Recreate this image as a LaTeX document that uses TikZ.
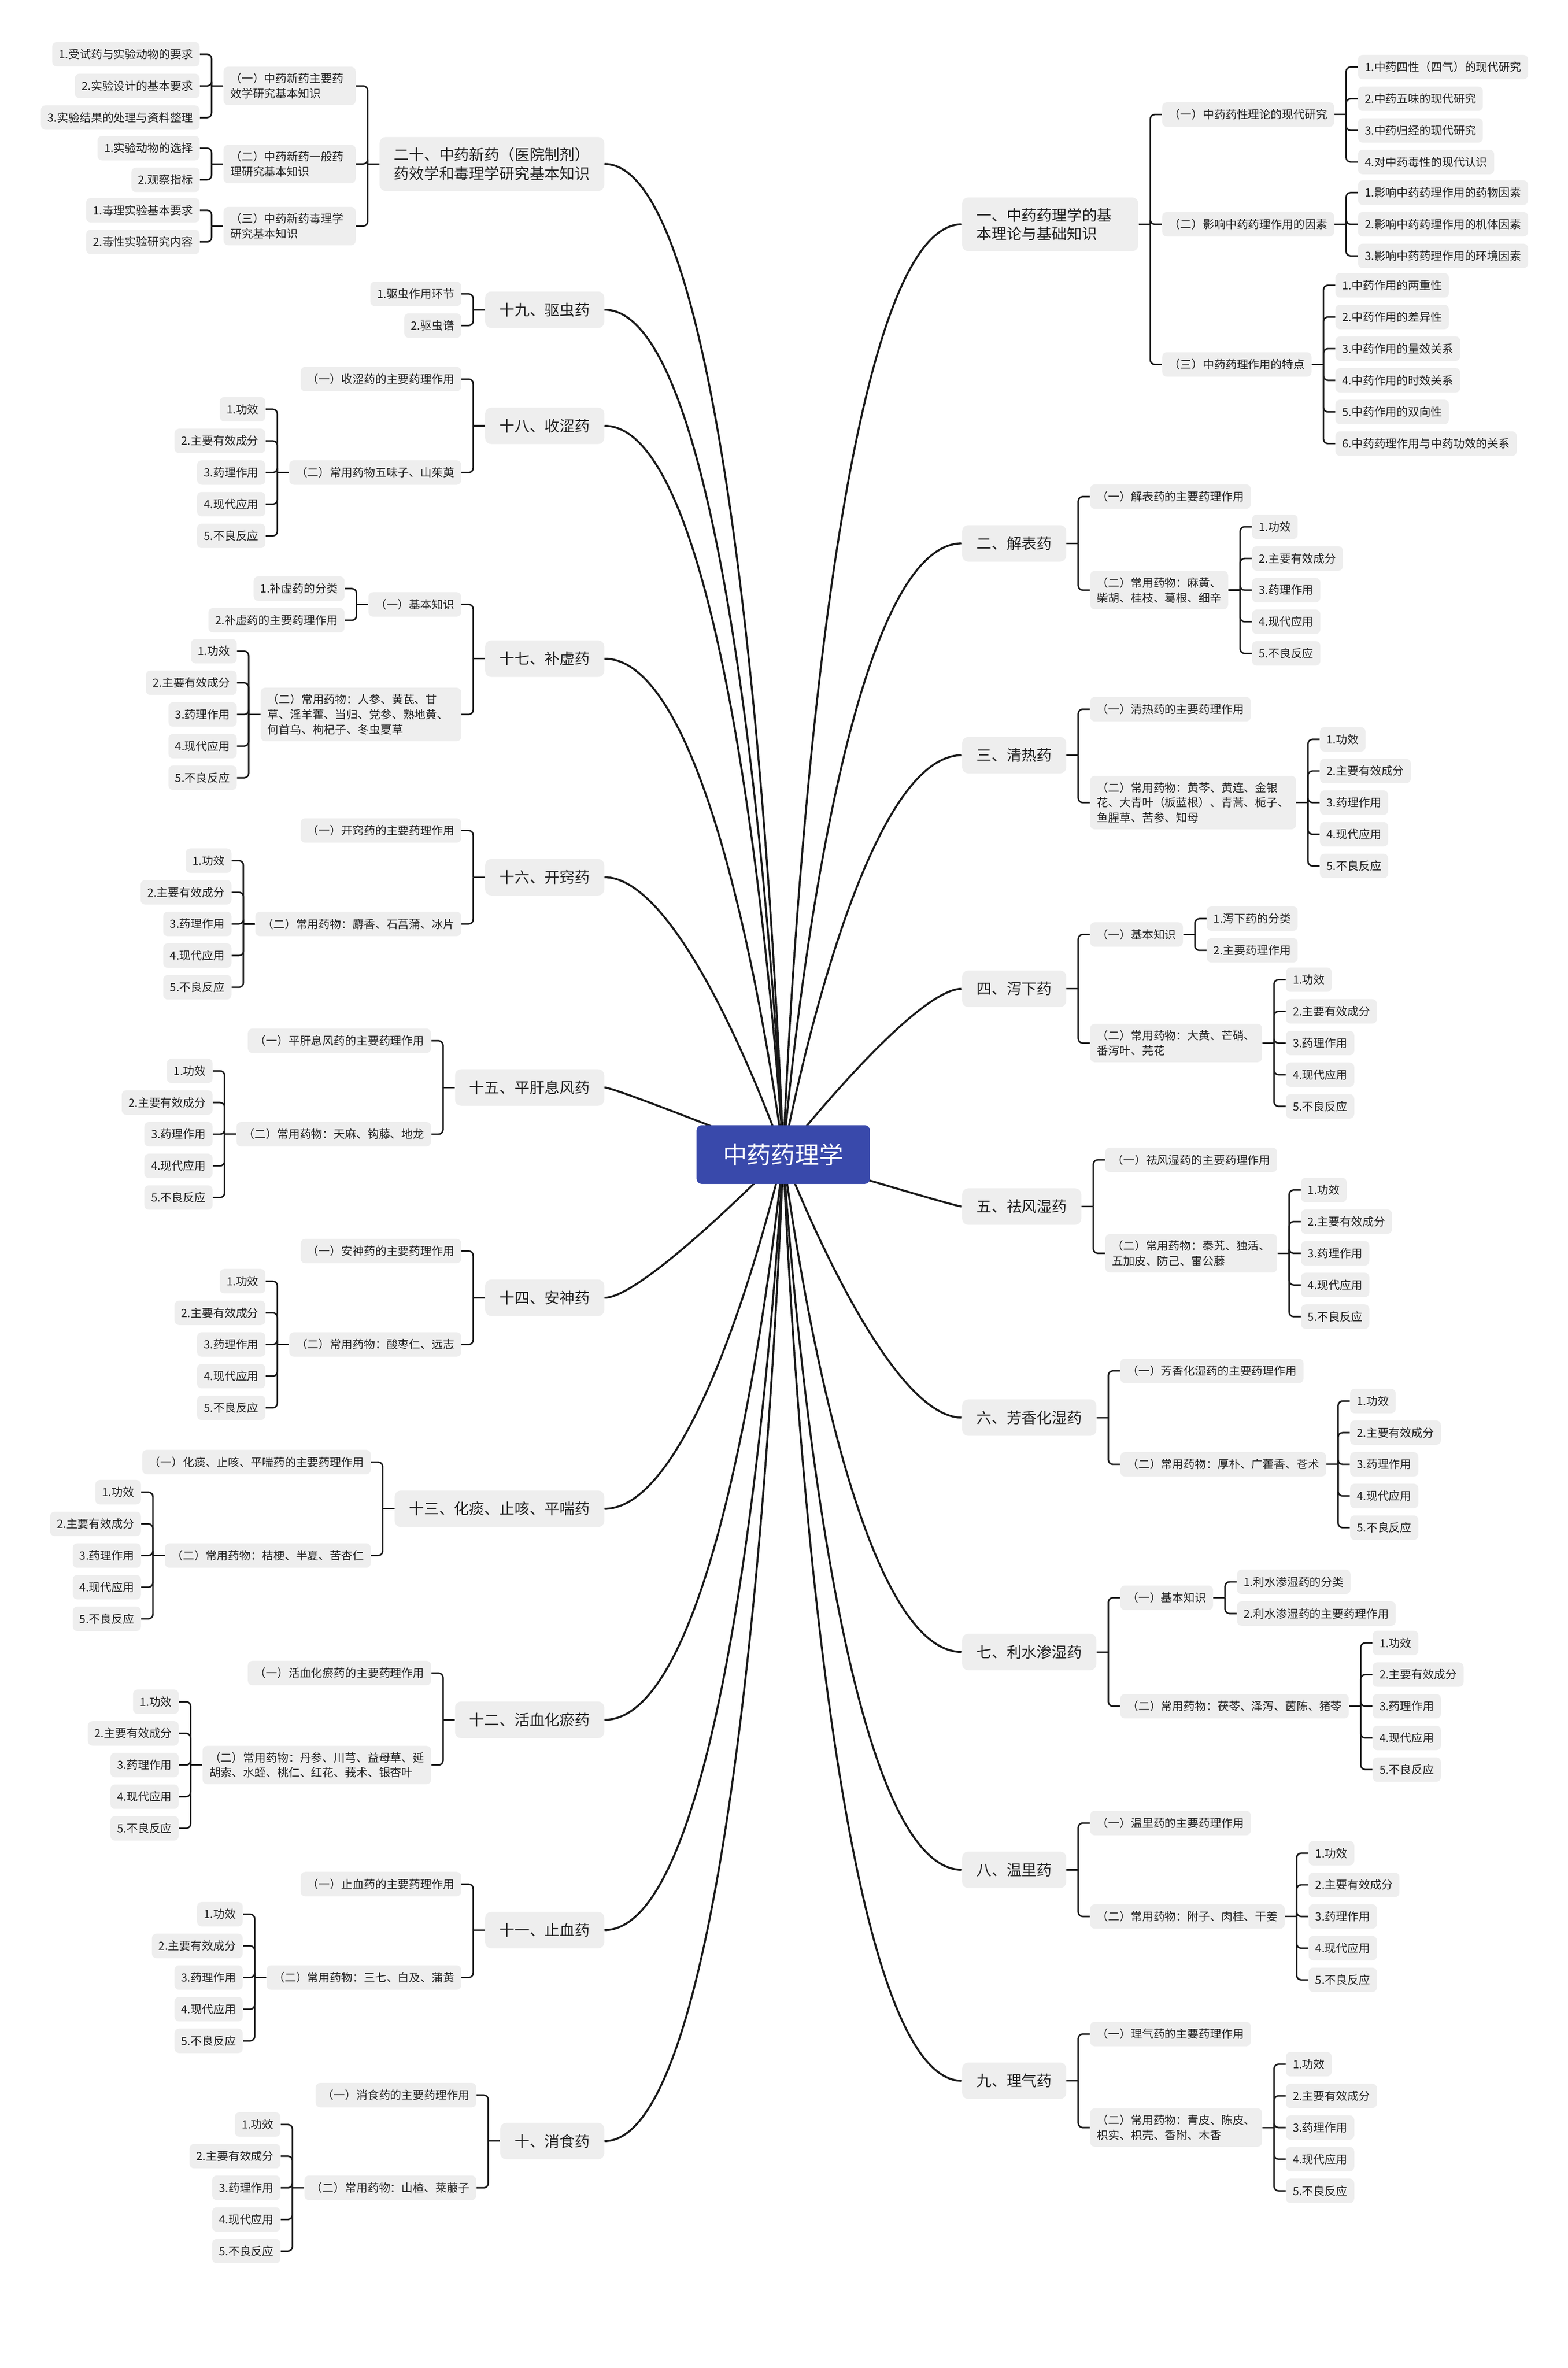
\documentclass[tikz,border=0pt]{standalone}
\usepackage{fontspec}
\setmainfont{Noto Sans CJK SC}
\usepackage{tikz}
\usetikzlibrary{positioning}
\usetikzlibrary{calc}
\usetikzlibrary{backgrounds}
\usepackage{xcolor}
\definecolor{rootblue}{HTML}{3949AB}
\definecolor{boxgray}{HTML}{EEEEEE}
\definecolor{inkgray}{HTML}{222222}
\definecolor{linegray}{HTML}{1A1A1A}

\tikzset{
  root/.style={fill=rootblue, text=white, rounded corners=3.5pt, minimum width=115pt, minimum height=39pt, font=\fontsize{16}{19}\selectfont},
  topic/.style={fill=boxgray, text=inkgray, rounded corners=4pt, inner xsep=9.5pt, inner ysep=7pt, minimum height=24.2pt, align=left, font=\fontsize{10}{12.4}\selectfont},
  sub/.style={fill=boxgray, text=inkgray, rounded corners=3pt, inner xsep=4.5pt, inner ysep=4.2pt, minimum height=16.2pt, align=left, font=\fontsize{7.5}{10}\selectfont},
  trunk/.style={linegray, line width=1.3pt},
  link/.style={linegray, line width=1pt},
}

\newcommand\rlink[2]{%
  \draw[link] (#1.east) -- ([xshift=7.75pt]#1.east);
  \draw[link, rounded corners=3pt] ([xshift=7.75pt]#1.east) |- (#2.west);}
\newcommand\llink[2]{%
  \draw[link] (#1.west) -- ([xshift=-7.75pt]#1.west);
  \draw[link, rounded corners=3pt] ([xshift=-7.75pt]#1.west) |- (#2.east);}

\newcommand\rleaves[3]{%
  \foreach \lbl [count=\i] in {#3}{%
    \node[sub, right=15.5pt of #1, yshift={((#2+1)/2-\i)*21pt}] (#1-\i) {\lbl};
    \rlink{#1}{#1-\i}
  }}
\newcommand\lleaves[3]{%
  \foreach \lbl [count=\i] in {#3}{%
    \node[sub, left=15.5pt of #1, yshift={((#2+1)/2-\i)*21pt}] (#1-\i) {\lbl};
    \llink{#1}{#1-\i}
  }}
\newcommand\rfive[1]{\rleaves{#1}{5}{1.功效,2.主要有效成分,3.药理作用,4.现代应用,5.不良反应}}
\newcommand\lfive[1]{\lleaves{#1}{5}{1.功效,2.主要有效成分,3.药理作用,4.现代应用,5.不良反应}}

\begin{document}
\begin{tikzpicture}[x=1pt, y=-1pt]
\useasboundingbox (0,0) rectangle (1040,1571.06);

\node[root] (root) at (519.5,766) {中药药理学};

% right side
\node[topic, anchor=west, text width=97.8pt] (b1) at (638,148.8) {一、中药药理学的基\\本理论与基础知识};
\node[sub, right=15.5pt of b1, yshift=72.8pt] (b1a) {（一）中药药性理论的现代研究};
\node[sub, right=15.5pt of b1] (b1b) {（二）影响中药药理作用的因素};
\node[sub, right=15.5pt of b1, yshift=-93pt] (b1c) {（三）中药药理作用的特点};
\rlink{b1}{b1a} \rlink{b1}{b1b} \rlink{b1}{b1c}
\rleaves{b1a}{4}{1.中药四性（四气）的现代研究,2.中药五味的现代研究,3.中药归经的现代研究,4.对中药毒性的现代认识}
\rleaves{b1b}{3}{1.影响中药药理作用的药物因素,2.影响中药药理作用的机体因素,3.影响中药药理作用的环境因素}
\rleaves{b1c}{6}{1.中药作用的两重性,2.中药作用的差异性,3.中药作用的量效关系,4.中药作用的时效关系,5.中药作用的双向性,6.中药药理作用与中药功效的关系}

\node[topic, anchor=west] (b2) at (638,360.5) {二、解表药};
\node[sub, right=15.5pt of b2, yshift=31pt] (b2a) {（一）解表药的主要药理作用};
\node[sub, right=15.5pt of b2, yshift=-31pt] (b2b) {（二）常用药物：麻黄、\\柴胡、桂枝、葛根、细辛};
\rlink{b2}{b2a} \rlink{b2}{b2b}
\rfive{b2b}

\node[topic, anchor=west] (b3) at (638,501) {三、清热药};
\node[sub, right=15.5pt of b3, yshift=30.5pt] (b3a) {（一）清热药的主要药理作用};
\node[sub, right=15.5pt of b3, yshift=-31.5pt] (b3b) {（二）常用药物：黄芩、黄连、金银\\花、大青叶（板蓝根）、青蒿、栀子、\\鱼腥草、苦参、知母};
\rlink{b3}{b3a} \rlink{b3}{b3b}
\rfive{b3b}

\node[topic, anchor=west] (b4) at (638,656) {四、泻下药};
\node[sub, right=15.5pt of b4, yshift=36pt] (b4a) {（一）基本知识};
\node[sub, right=15.5pt of b4, yshift=-36pt] (b4b) {（二）常用药物：大黄、芒硝、\\番泻叶、芫花};
\rlink{b4}{b4a} \rlink{b4}{b4b}
\rleaves{b4a}{2}{1.泻下药的分类,2.主要药理作用}
\rfive{b4b}

\node[topic, anchor=west] (b5) at (638,800.5) {五、祛风湿药};
\node[sub, right=15.5pt of b5, yshift=31pt] (b5a) {（一）祛风湿药的主要药理作用};
\node[sub, right=15.5pt of b5, yshift=-31pt] (b5b) {（二）常用药物：秦艽、独活、\\五加皮、防己、雷公藤};
\rlink{b5}{b5a} \rlink{b5}{b5b}
\rfive{b5b}

\node[topic, anchor=west] (b6) at (638,940.5) {六、芳香化湿药};
\node[sub, right=15.5pt of b6, yshift=31pt] (b6a) {（一）芳香化湿药的主要药理作用};
\node[sub, right=15.5pt of b6, yshift=-31pt] (b6b) {（二）常用药物：厚朴、广藿香、苍术};
\rlink{b6}{b6a} \rlink{b6}{b6b}
\rfive{b6b}

\node[topic, anchor=west] (b7) at (638,1096) {七、利水渗湿药};
\node[sub, right=15.5pt of b7, yshift=36pt] (b7a) {（一）基本知识};
\node[sub, right=15.5pt of b7, yshift=-36pt] (b7b) {（二）常用药物：茯苓、泽泻、茵陈、猪苓};
\rlink{b7}{b7a} \rlink{b7}{b7b}
\rleaves{b7a}{2}{1.利水渗湿药的分类,2.利水渗湿药的主要药理作用}
\rfive{b7b}

\node[topic, anchor=west] (b8) at (638,1240.5) {八、温里药};
\node[sub, right=15.5pt of b8, yshift=31pt] (b8a) {（一）温里药的主要药理作用};
\node[sub, right=15.5pt of b8, yshift=-31pt] (b8b) {（二）常用药物：附子、肉桂、干姜};
\rlink{b8}{b8a} \rlink{b8}{b8b}
\rfive{b8b}

\node[topic, anchor=west] (b9) at (638,1380.5) {九、理气药};
\node[sub, right=15.5pt of b9, yshift=31pt] (b9a) {（一）理气药的主要药理作用};
\node[sub, right=15.5pt of b9, yshift=-31pt] (b9b) {（二）常用药物：青皮、陈皮、\\枳实、枳壳、香附、木香};
\rlink{b9}{b9a} \rlink{b9}{b9b}
\rfive{b9b}

% left side
\node[topic, anchor=east] (b20) at (401,108.8) {二十、中药新药（医院制剂）\\药效学和毒理学研究基本知识};
\node[sub, left=15.5pt of b20, yshift=51.8pt, text width=78.6pt] (b20a) {（一）中药新药主要药\\效学研究基本知识};
\node[sub, left=15.5pt of b20, text width=78.6pt] (b20b) {（二）中药新药一般药\\理研究基本知识};
\node[sub, left=15.5pt of b20, yshift=-41.2pt, text width=78.6pt] (b20c) {（三）中药新药毒理学\\研究基本知识};
\llink{b20}{b20a} \llink{b20}{b20b} \llink{b20}{b20c}
\lleaves{b20a}{3}{1.受试药与实验动物的要求,2.实验设计的基本要求,3.实验结果的处理与资料整理}
\lleaves{b20b}{2}{1.实验动物的选择,2.观察指标}
\lleaves{b20c}{2}{1.毒理实验基本要求,2.毒性实验研究内容}

\node[topic, anchor=east] (b19) at (401,205.5) {十九、驱虫药};
\lleaves{b19}{2}{1.驱虫作用环节,2.驱虫谱}

\node[topic, anchor=east] (b18) at (401,282.5) {十八、收涩药};
\node[sub, left=15.5pt of b18, yshift=31pt] (b18a) {（一）收涩药的主要药理作用};
\node[sub, left=15.5pt of b18, yshift=-31pt] (b18b) {（二）常用药物五味子、山茱萸};
\llink{b18}{b18a} \llink{b18}{b18b}
\lfive{b18b}

\node[topic, anchor=east] (b17) at (401,437) {十七、补虚药};
\node[sub, left=15.5pt of b17, yshift=36pt] (b17a) {（一）基本知识};
\node[sub, left=15.5pt of b17, yshift=-37pt, text width=124pt] (b17b) {（二）常用药物：人参、黄芪、甘\\草、淫羊藿、当归、党参、熟地黄、\\何首乌、枸杞子、冬虫夏草};
\llink{b17}{b17a} \llink{b17}{b17b}
\lleaves{b17a}{2}{1.补虚药的分类,2.补虚药的主要药理作用}
\lfive{b17b}

\node[topic, anchor=east] (b16) at (401,582) {十六、开窍药};
\node[sub, left=15.5pt of b16, yshift=31pt] (b16a) {（一）开窍药的主要药理作用};
\node[sub, left=15.5pt of b16, yshift=-31pt] (b16b) {（二）常用药物：麝香、石菖蒲、冰片};
\llink{b16}{b16a} \llink{b16}{b16b}
\lfive{b16b}

\node[topic, anchor=east] (b15) at (401,721.5) {十五、平肝息风药};
\node[sub, left=15.5pt of b15, yshift=31pt] (b15a) {（一）平肝息风药的主要药理作用};
\node[sub, left=15.5pt of b15, yshift=-31pt] (b15b) {（二）常用药物：天麻、钩藤、地龙};
\llink{b15}{b15a} \llink{b15}{b15b}
\lfive{b15b}

\node[topic, anchor=east] (b14) at (401,861) {十四、安神药};
\node[sub, left=15.5pt of b14, yshift=31pt] (b14a) {（一）安神药的主要药理作用};
\node[sub, left=15.5pt of b14, yshift=-31pt] (b14b) {（二）常用药物：酸枣仁、远志};
\llink{b14}{b14a} \llink{b14}{b14b}
\lfive{b14b}

\node[topic, anchor=east] (b13) at (401,1001) {十三、化痰、止咳、平喘药};
\node[sub, left=15.5pt of b13, yshift=31pt] (b13a) {（一）化痰、止咳、平喘药的主要药理作用};
\node[sub, left=15.5pt of b13, yshift=-31pt] (b13b) {（二）常用药物：桔梗、半夏、苦杏仁};
\llink{b13}{b13a} \llink{b13}{b13b}
\lfive{b13b}

\node[topic, anchor=east] (b12) at (401,1141) {十二、活血化瘀药};
\node[sub, left=15.5pt of b12, yshift=31pt] (b12a) {（一）活血化瘀药的主要药理作用};
\node[sub, left=15.5pt of b12, yshift=-30pt] (b12b) {（二）常用药物：丹参、川芎、益母草、延\\胡索、水蛭、桃仁、红花、莪术、银杏叶};
\llink{b12}{b12a} \llink{b12}{b12b}
\lfive{b12b}

\node[topic, anchor=east] (b11) at (401,1280.5) {十一、止血药};
\node[sub, left=15.5pt of b11, yshift=30.5pt] (b11a) {（一）止血药的主要药理作用};
\node[sub, left=15.5pt of b11, yshift=-31.5pt] (b11b) {（二）常用药物：三七、白及、蒲黄};
\llink{b11}{b11a} \llink{b11}{b11b}
\lfive{b11b}

\node[topic, anchor=east] (b10) at (401,1420.5) {十、消食药};
\node[sub, left=15.5pt of b10, yshift=30.5pt] (b10a) {（一）消食药的主要药理作用};
\node[sub, left=15.5pt of b10, yshift=-31pt] (b10b) {（二）常用药物：山楂、莱菔子};
\llink{b10}{b10a} \llink{b10}{b10b}
\lfive{b10b}

\begin{pgfonlayer}{background}
\fill[white] (0,0) rectangle (1040,1571.06);
\foreach \br/\sd/\k in {b1/west/0.19, b2/west/0.28, b3/west/0.41, b4/west/0.73, b5/west/0.96, b6/west/0.56, b7/west/0.34, b8/west/0.24, b9/west/0.19, b10/east/0.18, b11/east/0.22, b12/east/0.30, b13/east/0.45, b14/east/0.78, b15/east/0.94, b16/east/0.54, b17/east/0.34, b18/east/0.24, b19/east/0.21, b20/east/0.18}
  \draw[trunk] (root.center) .. controls (root.center) and ($(root.center |- \br.\sd)!\k!(\br.\sd)$) .. (\br.\sd);
\end{pgfonlayer}
\end{tikzpicture}
\end{document}
